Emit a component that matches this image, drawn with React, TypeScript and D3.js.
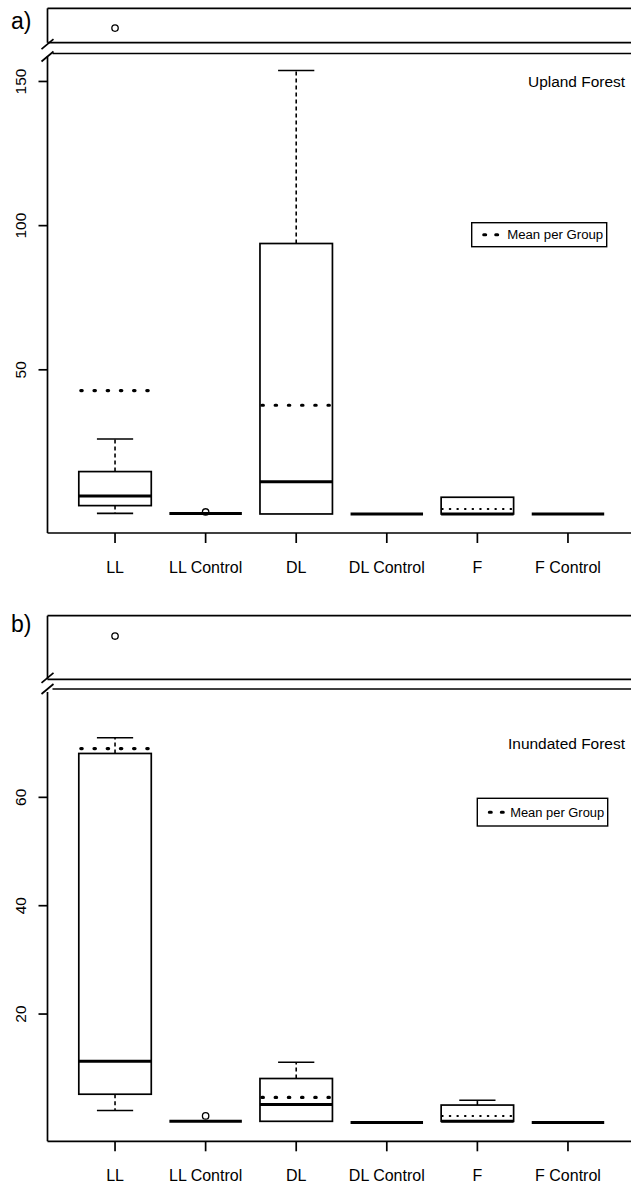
import React from "react";
import * as d3 from "d3";

const categories = ["LL", "LL Control", "DL", "DL Control", "F", "F Control"];

// a) Upland Forest
const uplandLow = [0.2, 0.2, 0, 0, 0, 0];
const uplandQ1 = [2.9, 0.2, 0, 0, 0, 0];
const uplandMedian = [6.2, 0.2, 11.2, 0, 0, 0];
const uplandQ3 = [14.7, 0.2, 93.8, 0, 5.8, 0];
const uplandHigh = [26, 0.2, 153.8, 0, 5.8, 0];
const uplandMean = [42.8, 0.2, 37.7, 0, 1.7, 0];
const uplandOutliers = [[], [0.7], [], [], [], []];
const uplandBreakOutliers = [[397], [], [], [], [], []];
const uplandTicks = [50, 100, 150];

// b) Inundated Forest
const inundatedLow = [2.2, 0.2, 0.2, 0, 0.2, 0];
const inundatedQ1 = [5.2, 0.2, 0.2, 0, 0.2, 0];
const inundatedMedian = [11.3, 0.2, 3.3, 0, 0.2, 0];
const inundatedQ3 = [68.1, 0.2, 8.1, 0, 3.2, 0];
const inundatedHigh = [71, 0.2, 11.1, 0, 4.1, 0];
const inundatedMean = [69, 0.2, 4.6, 0, 1.2, 0];
const inundatedOutliers = [[], [1.2], [], [], [], []];
const inundatedBreakOutliers = [[468], [], [], [], [], []];
const inundatedTicks = [20, 40, 60];

// groups whose mean is drawn with the fine dotted line
const fineMean = new Set(["F"]);

const FONT = "'Liberation Sans', Arial, Helvetica, sans-serif";
const W = 631;
const H = 1183;
const L = 47.5;

const x = d3.scaleLinear().domain([0.26, 6.74]).range([48, 635]);
const boxHalf = (x(1.4) - x(1));
const stapleHalf = (x(1.2) - x(1));

function Panel(props) {
  const { tag, title, low, q1, median, q3, high, mean, outliers, breakOutliers, ticks, domain, breakDomain, f } = props;
  const y = d3.scaleLinear().domain(domain).range([f.axisY, f.mainTop]);
  const yb = d3.scaleLinear().domain(breakDomain).range([f.breakBottom, f.breakTop]);
  const s1 = f.breakBottom + 1.5 + f.slashShift;
  const s2 = f.mainTop + 3 + f.slashShift;
  return (
    <g>
      <text x={11} y={f.tagY} fontSize={23} fontFamily={FONT}>{tag}</text>
      {/* break frame */}
      <g stroke="#000" strokeWidth={1.7} fill="none">
        <line x1={L} x2={W} y1={f.breakTop} y2={f.breakTop} />
        <line x1={L} x2={L} y1={f.breakTop} y2={f.breakBottom} />
        <line x1={L} x2={W} y1={f.breakBottom} y2={f.breakBottom} />
        <line x1={L + 5} x2={W} y1={f.mainTop} y2={f.mainTop} />
        <line x1={L} x2={L} y1={f.mainTop + 3} y2={f.axisY} />
        <line x1={L} x2={W} y1={f.axisY} y2={f.axisY} />
        <line x1={L - 6} x2={L + 6} y1={s1 + 5} y2={s1 - 5} />
        <line x1={L - 6} x2={L + 6} y1={s2 + 5} y2={s2 - 5} />
      </g>
      {/* y ticks */}
      {ticks.map(t => (
        <g key={t}>
          <line x1={L - 9} x2={L} y1={y(t)} y2={y(t)} stroke="#000" strokeWidth={1.7} />
          <text transform={`translate(25.5,${y(t)}) rotate(-90)`} textAnchor="middle" fontSize={15.5} fontFamily={FONT}>{t}</text>
        </g>
      ))}
      {/* x ticks */}
      {categories.map((c, i) => (
        <g key={c}>
          <line x1={x(i + 1)} x2={x(i + 1)} y1={f.axisY} y2={f.axisY + 10} stroke="#000" strokeWidth={1.7} />
          <text x={x(i + 1)} y={f.axisY + 40} textAnchor="middle" fontSize={16} fontFamily={FONT}>{c}</text>
        </g>
      ))}
      {/* boxes */}
      {categories.map((c, i) => {
        const cx = x(i + 1);
        const bl = cx - boxHalf;
        const br = cx + boxHalf;
        const fine = fineMean.has(c);
        return (
          <g key={c} fill="none" stroke="#000">
            {high[i] > q3[i] && (
              <g strokeWidth={1.6}>
                <line x1={cx} x2={cx} y1={y(q3[i])} y2={y(high[i])} strokeDasharray="4 3" />
                <line x1={cx - stapleHalf} x2={cx + stapleHalf} y1={y(high[i])} y2={y(high[i])} />
              </g>
            )}
            {low[i] < q1[i] && (
              <g strokeWidth={1.6}>
                <line x1={cx} x2={cx} y1={y(q1[i])} y2={y(low[i])} strokeDasharray="4 3" />
                <line x1={cx - stapleHalf} x2={cx + stapleHalf} y1={y(low[i])} y2={y(low[i])} />
              </g>
            )}
            <rect x={bl} width={br - bl} y={y(q3[i])} height={Math.max(0, y(q1[i]) - y(q3[i]))} strokeWidth={1.7} />
            <line x1={bl} x2={br} y1={y(median[i])} y2={y(median[i])} strokeWidth={3} />
            {mean[i] !== median[i] && (
              <line
                x1={bl + (fine ? 1 : 2)} x2={br} y1={y(mean[i])} y2={y(mean[i])}
                strokeWidth={fine ? 2 : 3.2}
                strokeLinecap="round"
                strokeDasharray={fine ? "0.6 7" : "1.4 11.8"}
              />
            )}
            {outliers[i].map((o, k) => (
              <circle key={k} cx={cx} cy={y(o)} r={3.2} strokeWidth={1.3} />
            ))}
            {breakOutliers[i].map((o, k) => (
              <circle key={"b" + k} cx={cx} cy={yb(o)} r={3.2} strokeWidth={1.3} />
            ))}
          </g>
        );
      })}
      {/* title */}
      <text x={625} y={f.titleY} textAnchor="end" fontSize={14} fontFamily={FONT}
        textLength={f.titleWidth} lengthAdjust="spacingAndGlyphs">{title}</text>
      {/* legend */}
      <rect x={f.legendX} y={f.legendY} width={f.legendW} height={f.legendH} fill="#fff" stroke="#000" strokeWidth={1.4} />
      <line x1={f.legendX + 12} x2={f.legendX + 28} y1={f.legendY + f.legendH / 2} y2={f.legendY + f.legendH / 2}
        stroke="#000" strokeWidth={3} strokeLinecap="round" strokeDasharray="2 10" />
      <text x={f.legendX + f.legendW - 3.5} y={f.legendY + f.legendH / 2 + 4.5} textAnchor="end" fontSize={12.5}
        fontFamily={FONT} textLength={f.legendTextWidth} lengthAdjust="spacingAndGlyphs">Mean per Group</text>
    </g>
  );
}

export default function App() {
  return (
    <div style={{ position: "absolute", left: 0, top: 0, background: "#fff" }}>
      <svg width={W} height={H} style={{ display: "block" }}>
        <rect width={W} height={H} fill="#fff" />
        <Panel
          tag="a)"
          title="Upland Forest"
          low={uplandLow} q1={uplandQ1} median={uplandMedian} q3={uplandQ3} high={uplandHigh} mean={uplandMean}
          outliers={uplandOutliers} breakOutliers={uplandBreakOutliers} ticks={uplandTicks}
          domain={[-6.6, 159.7]} breakDomain={[380, 420]}
          f={{
            breakTop: 8.3, breakBottom: 42.7, mainTop: 53.5, axisY: 533, tagY: 28.5, titleY: 87.3,
            slashShift: 0, titleWidth: 97, legendX: 471.7, legendY: 222.7, legendW: 135, legendH: 24,
            legendTextWidth: 96,
          }}
        />
        <Panel
          tag="b)"
          title="Inundated Forest"
          low={inundatedLow} q1={inundatedQ1} median={inundatedMedian} q3={inundatedQ3} high={inundatedHigh} mean={inundatedMean}
          outliers={inundatedOutliers} breakOutliers={inundatedBreakOutliers} ticks={inundatedTicks}
          domain={[-3.49, 80.0]} breakDomain={[400, 500]}
          f={{
            breakTop: 615.7, breakBottom: 679.3, mainTop: 689, axisY: 1141.3, tagY: 631.5, titleY: 748.5,
            slashShift: -3, titleWidth: 117, legendX: 477.3, legendY: 798.3, legendW: 130.4, legendH: 27.7,
            legendTextWidth: 94,
          }}
        />
      </svg>
    </div>
  );
}
